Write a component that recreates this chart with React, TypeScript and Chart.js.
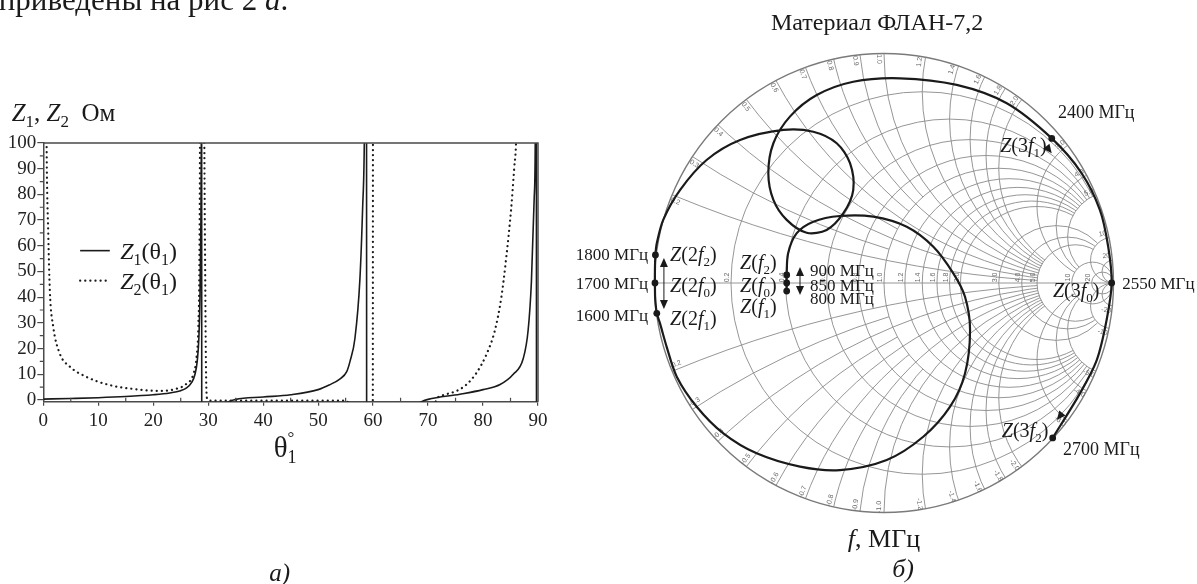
import React, { useEffect, useRef } from 'react';
import { Chart, registerables } from 'chart.js';
Chart.register(...registerables);

const SERIF = '"Liberation Serif", "Times New Roman", serif';
const SANS = '"Liberation Sans", "DejaVu Sans", sans-serif';
const INK = '#1a1a1a';
const AXIS = '#4a4a4a';
const GRID = '#8a8a8a';

// ---------- (а) Z1, Z2 versus θ1 ----------
const THETA_TICKS = [0, 10, 20, 30, 40, 50, 60, 70, 80, 90];
const THETA_MINOR = [5, 15, 25, 35, 45, 55, 65, 75, 85];
const Z_TICKS = [0, 10, 20, 30, 40, 50, 60, 70, 80, 90, 100];
const Z_MINOR = [5, 15, 25, 35, 45, 55, 65, 75, 85, 95];

const Z1_THETA = [0, 5, 10, 15, 20, 23, 25, 26, 27, 27.6, 28, 28.3, 28.5, 28.65, 28.75, 28.8, 28.85, 30, 32, 33.5, 35, 40, 45, 50, 52, 54, 55.2, 55.8, 56.7, 57.6, 58.1, 58.4, 58.6, 58.8, 58.85, 62, 66, 68.8, 70, 75.8, 80, 83.1, 85.5, 87.3, 88.2, 88.8, 89.3, 89.5, 89.6, 89.7, 89.75, 90];
const Z1_VALUES = [0.3, 0.55, 0.85, 1.3, 2.0, 2.7, 3.6, 4.6, 6.8, 10, 15, 24, 40, 65, 100, 160, -160, -20, -5, -1, 0.2, 1.1, 2.0, 4.0, 5.8, 8.2, 11, 15, 24, 47, 75, 100, 160, 160, -160, -20, -4, -0.7, 0.2, 2.2, 4, 6, 10, 16, 27, 46, 78, 100, 160, 160, -160, -100];

const Z2_THETA = [0.45, 0.6, 0.9, 1.2, 1.8, 3, 4.8, 7.8, 12, 17.5, 21, 24, 26, 27.3, 27.9, 28.2, 28.4, 28.5, 28.55, 29.2, 29.3, 29.45, 29.6, 29.8, 30.5, 35, 40, 45, 50, 55, 55.5, 56, 59.9, 60, 60.05, 65, 70, 71.8, 72.7, 75.2, 77, 78.8, 80.6, 82.1, 83.3, 84.2, 85.1, 85.7, 86, 86.1];
const Z2_VALUES = [160, 100, 65, 42, 28.6, 18, 13, 9, 5.8, 4, 3.5, 4.2, 6.2, 10, 17, 28, 54, 100, 160, 160, 100, 50, 12, 0.5, -0.3, -0.3, -0.3, -0.3, -0.3, -0.3, -1.5, -20, -160, 160, 160, null, -8, 0.9, 1.8, 3.5, 6, 10.5, 17.6, 26.6, 39.5, 55, 74, 91, 100, 110];

// ---------- (б) Smith chart ----------
const R_CIRCLES = [0.2, 0.4, 0.6, 0.8, 1.0, 1.2, 1.4, 1.6, 1.8, 2.0, 3.0, 4.0, 5.0, 10, 20];
const X_ARCS = [0.2, 0.3, 0.4, 0.5, 0.6, 0.7, 0.8, 0.9, 1.0, 1.2, 1.4, 1.6, 1.8, 2.0, 3.0, 4.0, 5.0, 10, 20];
const X_FINE = [0.3, 0.5, 0.7, 0.9];

// reflection coefficient of the impedance locus, 800 -> 2700 MHz
const LOCUS_RE = [-0.424, -0.424, -0.424, -0.418, -0.381, -0.308, -0.192, -0.047, 0.099, 0.215, 0.302, 0.353, 0.375, 0.353, 0.288, 0.171, 0.012, -0.192, -0.366, -0.555, -0.700, -0.816, -0.903, -0.947, -0.976, -0.990, -0.997, -0.998, -0.998, -0.996, -0.990, -0.962, -0.889, -0.773, -0.627, -0.439, -0.308, -0.206, -0.148, -0.134, -0.177, -0.250, -0.337, -0.424, -0.482, -0.504, -0.482, -0.410, -0.293, -0.134, 0.070, 0.317, 0.535, 0.731, 0.860, 0.941, 0.977, 0.992, 0.970, 0.927, 0.854, 0.735];
const LOCUS_IM = [-0.035, 0, 0.035, 0.129, 0.216, 0.267, 0.292, 0.289, 0.245, 0.158, 0.042, -0.060, -0.205, -0.394, -0.539, -0.670, -0.771, -0.815, -0.800, -0.742, -0.655, -0.539, -0.408, -0.278, -0.176, -0.132, -0.066, 0, 0.061, 0.122, 0.173, 0.275, 0.405, 0.536, 0.623, 0.667, 0.659, 0.609, 0.522, 0.405, 0.304, 0.231, 0.219, 0.275, 0.362, 0.478, 0.609, 0.725, 0.819, 0.877, 0.892, 0.863, 0.783, 0.630, 0.480, 0.318, 0.158, 0, -0.161, -0.336, -0.481, -0.675];

const MARK_FREQ = [800, 850, 900, 1600, 1700, 1800, 2400, 2550, 2700];
const MARK_RE = [-0.424, -0.424, -0.424, -0.990, -0.998, -0.996, 0.731, 0.992, 0.735];
const MARK_IM = [-0.035, 0, 0.035, -0.132, 0, 0.122, 0.630, 0, -0.675];

type Part = { t: string; i?: boolean; s?: 'sub' | 'sup' };

function partFont(p: Part, size: number) {
  const sz = p.s ? Math.round(size * 0.66) : size;
  return `${p.i ? 'italic ' : ''}${sz}px ${SERIF}`;
}
function drawRich(ctx: CanvasRenderingContext2D, parts: Part[], x: number, yBase: number, size: number, align: 'left' | 'right' | 'center') {
  const widths = parts.map(p => { ctx.font = partFont(p, size); return ctx.measureText(p.t).width; });
  const w = widths.reduce((a, b) => a + b, 0);
  let cx = align === 'left' ? x : align === 'right' ? x - w : x - w / 2;
  ctx.textAlign = 'left';
  ctx.textBaseline = 'alphabetic';
  parts.forEach((p, i) => {
    ctx.font = partFont(p, size);
    const dy = p.s === 'sub' ? size * 0.26 : p.s === 'sup' ? -size * 0.42 : 0;
    ctx.fillText(p.t, cx, yBase + dy);
    cx += widths[i];
  });
}
const zOf = (inner: Part[]): Part[] => [{ t: 'Z', i: true }, { t: '(' }, ...inner, { t: ')' }];
const fSub = (n: string, pre = ''): Part[] => [...(pre ? [{ t: pre }] : []), { t: 'f', i: true }, { t: n, s: 'sub' as const }];

function arrowHead(ctx: CanvasRenderingContext2D, x: number, y: number, dx: number, dy: number, len = 8, half = 3.6) {
  const L = Math.hypot(dx, dy); const ux = dx / L, uy = dy / L;
  const bx = x - ux * len, by = y - uy * len;
  ctx.beginPath();
  ctx.moveTo(x, y);
  ctx.lineTo(bx - uy * half, by + ux * half);
  ctx.lineTo(bx + uy * half, by - ux * half);
  ctx.closePath();
  ctx.fill();
}

const leftDecor = {
  id: 'leftDecor',
  afterDraw(chart: any) {
    const { ctx, chartArea: a, scales } = chart;
    const X = (t: number) => scales.x.getPixelForValue(t);
    const Y = (z: number) => scales.y.getPixelForValue(z);
    ctx.save();
    ctx.strokeStyle = AXIS;
    ctx.lineWidth = 1.5;
    ctx.beginPath();
    ctx.moveTo(a.left, a.top); ctx.lineTo(a.right, a.top); ctx.lineTo(a.right, a.bottom);
    ctx.stroke();
    ctx.lineWidth = 1.2;
    ctx.beginPath();
    Z_MINOR.forEach(z => { const y = Y(z); ctx.moveTo(a.left, y); ctx.lineTo(a.left - 3.5, y); });
    THETA_MINOR.forEach(t => { const x = X(t); ctx.moveTo(x, a.bottom); ctx.lineTo(x, a.bottom - 4); });
    ctx.stroke();

    ctx.fillStyle = INK;
    // legend
    ctx.strokeStyle = INK;
    ctx.lineWidth = 1.6;
    ctx.beginPath(); ctx.moveTo(X(6.7), Y(58.1)); ctx.lineTo(X(12.1), Y(58.1)); ctx.stroke();
    ctx.lineWidth = 2.2; ctx.lineCap = 'round'; ctx.setLineDash([0.1, 5]);
    ctx.beginPath(); ctx.moveTo(X(6.7), Y(46.4)); ctx.lineTo(X(12.1), Y(46.4)); ctx.stroke();
    ctx.setLineDash([]); ctx.lineCap = 'butt';
    drawRich(ctx, [{ t: 'Z', i: true }, { t: '1', s: 'sub' }, { t: '(θ' }, { t: '1', s: 'sub' }, { t: ')' }], X(14), Y(58.1) + 8, 24, 'left');
    drawRich(ctx, [{ t: 'Z', i: true }, { t: '2', s: 'sub' }, { t: '(θ' }, { t: '1', s: 'sub' }, { t: ')' }], X(14), Y(46.4) + 8, 24, 'left');

    // axis titles
    drawRich(ctx, [{ t: 'Z', i: true }, { t: '1', s: 'sub' }, { t: ', ' }, { t: 'Z', i: true }, { t: '2', s: 'sub' }, { t: '  Ом' }], X(-5.75), Y(108.6), 25, 'left');
    ctx.font = `29px ${SERIF}`;
    ctx.textAlign = 'left'; ctx.textBaseline = 'alphabetic';
    const tw = ctx.measureText('θ').width;
    const tx = X(43.9) - (tw + 8) / 2;
    ctx.fillText('θ', tx, Y(-22.2));
    ctx.font = `18px ${SERIF}`;
    ctx.fillText('1', tx + tw, Y(-22.2) + 6);
    ctx.font = `17px ${SERIF}`;
    ctx.fillText('°', tx + tw, Y(-22.2) - 14);
    drawRich(ctx, [{ t: 'а', i: true }, { t: ')', i: true }], X(43), Y(-70.5), 25, 'center');
    // running text above the figure (cut by the frame)
    drawRich(ctx, [{ t: 'приведены на рис 2 ' }, { t: 'а', i: true }, { t: '.' }], X(-8.1), Y(151.8), 31, 'left');
    ctx.restore();
  },
};

function LeftChart() {
  const ref = useRef<HTMLCanvasElement>(null);
  useEffect(() => {
    const chart = new Chart(ref.current as HTMLCanvasElement, {
      type: 'scatter',
      data: {
        datasets: [
          {
            label: 'Z1(θ1)',
            data: Z1_THETA.map((t, i) => ({ x: t, y: Z1_VALUES[i] })),
            showLine: true, borderColor: INK, borderWidth: 1.6, pointRadius: 0, cubicInterpolationMode: 'monotone', spanGaps: false,
          },
          {
            label: 'Z2(θ1)',
            data: Z2_THETA.map((t, i) => ({ x: t, y: Z2_VALUES[i] as any })),
            showLine: true, borderColor: INK, borderWidth: 2.2, borderDash: [0.1, 5], borderCapStyle: 'round',
            pointRadius: 0, cubicInterpolationMode: 'monotone', spanGaps: false,
          },
        ],
      } as any,
      options: {
        responsive: false,
        animation: false,
        events: [],
        layout: { padding: { top: 143, right: 22, bottom: 152.3, left: 0 } },
        plugins: { legend: { display: false }, tooltip: { enabled: false } },
        scales: {
          x: {
            type: 'linear', min: 0, max: 90,
            afterFit: (s: any) => { s.height = 30; },
            afterBuildTicks: (s: any) => { s.ticks = THETA_TICKS.map(v => ({ value: v })); },
            ticks: { font: { family: SERIF, size: 19 }, color: '#222', padding: 4, maxRotation: 0, autoSkip: false },
            grid: { drawOnChartArea: false, tickLength: 4, color: AXIS, lineWidth: 1.2 },
            border: { color: AXIS, width: 1.5 },
          },
          y: {
            type: 'linear', min: -0.7, max: 100,
            afterFit: (s: any) => { s.width = 43.3; },
            afterBuildTicks: (s: any) => { s.ticks = Z_TICKS.map(v => ({ value: v })); },
            ticks: { font: { family: SERIF, size: 19 }, color: '#222', padding: 1, autoSkip: false },
            grid: { drawOnChartArea: false, tickLength: 6, color: AXIS, lineWidth: 1.2 },
            border: { color: AXIS, width: 1.5 },
          },
        },
      } as any,
      plugins: [leftDecor],
    });
    return () => chart.destroy();
  }, []);
  return <canvas ref={ref} width={560} height={584} style={{ position: 'absolute', left: 0, top: 0 }} />;
}

const smithGrid = {
  id: 'smithGrid',
  beforeDatasetsDraw(chart: any) {
    const { ctx, scales, width, height } = chart;
    const P = (u: number, v: number): [number, number] => [scales.x.getPixelForValue(u), scales.y.getPixelForValue(v)];
    const [cx, cy] = P(0, 0);
    const k = P(1, 0)[0] - cx;
    const circ = (u: number, v: number, r: number) => { const [x, y] = P(u, v); ctx.moveTo(x + r * k, y); ctx.arc(x, y, r * k, 0, Math.PI * 2); };
    const exclude = (holes: [number, number, number][]) => {
      ctx.beginPath(); ctx.rect(0, 0, width, height);
      holes.forEach(h => circ(h[0], h[1], h[2]));
      ctx.clip('evenodd');
    };
    ctx.save();
    ctx.beginPath(); ctx.arc(cx, cy, k, 0, Math.PI * 2); ctx.clip();
    ctx.strokeStyle = GRID; ctx.lineWidth = 0.9;
    ctx.beginPath(); ctx.moveTo(cx - k, cy); ctx.lineTo(cx + k, cy); ctx.stroke();
    R_CIRCLES.forEach(r => {
      ctx.save();
      if (r <= 2) exclude([[1, 0.2, 0.2], [1, -0.2, 0.2]]);
      else if (r <= 5) exclude([[1, 0.1, 0.1], [1, -0.1, 0.1]]);
      ctx.beginPath(); circ(r / (1 + r), 0, 1 / (1 + r)); ctx.stroke();
      ctx.restore();
    });
    X_ARCS.forEach(x => {
      [1, -1].forEach(s => {
        ctx.save();
        if (X_FINE.includes(x)) exclude([[0.5, 0, 0.5]]);
        else if (x <= 2) exclude([[5 / 6, 0, 1 / 6]]);
        else if (x <= 5) exclude([[10 / 11, 0, 1 / 11]]);
        ctx.beginPath(); circ(1, s / x, 1 / x); ctx.stroke();
        ctx.restore();
      });
    });
    ctx.restore();
    ctx.save();
    ctx.strokeStyle = '#7a7a7a'; ctx.lineWidth = 1.4;
    ctx.beginPath(); ctx.arc(cx, cy, k, 0, Math.PI * 2); ctx.stroke();
    // rim reactance labels
    ctx.fillStyle = '#6a6a6a';
    ctx.font = `7px ${SANS}`;
    ctx.textAlign = 'center'; ctx.textBaseline = 'middle';
    X_ARCS.forEach(x => {
      [1, -1].forEach(s => {
        const a = s * (Math.PI - 2 * Math.atan(x)) + s * 0.022;
        const [lx, ly] = P(0.976 * Math.cos(a), 0.976 * Math.sin(a));
        let rot = -a;
        while (rot > Math.PI) rot -= 2 * Math.PI;
        while (rot < -Math.PI) rot += 2 * Math.PI;
        if (rot > Math.PI / 2) rot -= Math.PI;
        if (rot < -Math.PI / 2) rot += Math.PI;
        ctx.save(); ctx.translate(lx, ly); ctx.rotate(rot);
        ctx.fillText((s < 0 ? '-' : '') + (x < 10 ? x.toFixed(1) : String(x)), 0, 0);
        ctx.restore();
      });
    });
    // resistance labels on the real axis
    R_CIRCLES.forEach(r => {
      const u = (r - 1) / (r + 1);
      const [lx, ly] = P(u - 0.017, 0.024);
      ctx.save(); ctx.translate(lx, ly); ctx.rotate(-Math.PI / 2);
      ctx.fillText(r < 10 ? r.toFixed(1) : String(r), 0, 0);
      ctx.restore();
    });
    ctx.restore();
  },
};

type Label = { parts: Part[]; u: number; v: number; size: number; align: 'left' | 'right' | 'center' };
const mhz = (f: number): Part[] => [{ t: `${f} МГц` }];
const SMITH_TEXT: Label[] = [
  { parts: [{ t: 'Материал ФЛАН-7,2' }], u: -0.03, v: 1.137, size: 24, align: 'center' },
  { parts: [{ t: 'f', i: true }, { t: ', МГц' }], u: 0, v: -1.111, size: 26, align: 'center' },
  { parts: [{ t: 'б', i: true }, { t: ')', i: true }], u: 0.083, v: -1.242, size: 26, align: 'center' },
  { parts: mhz(2400), u: 0.758, v: 0.745, size: 18, align: 'left' },
  { parts: zOf(fSub('1', '3')), u: 0.709, v: 0.601, size: 20, align: 'right' },
  { parts: mhz(2550), u: 1.038, v: 0, size: 17, align: 'left' },
  { parts: zOf(fSub('0', '3')), u: 0.736, v: -0.03, size: 20, align: 'left' },
  { parts: zOf(fSub('2', '3')), u: 0.716, v: -0.641, size: 20, align: 'right' },
  { parts: mhz(2700), u: 0.780, v: -0.723, size: 18, align: 'left' },
  { parts: mhz(1800), u: -1.028, v: 0.126, size: 17, align: 'right' },
  { parts: mhz(1700), u: -1.028, v: 0, size: 17, align: 'right' },
  { parts: mhz(1600), u: -1.028, v: -0.139, size: 17, align: 'right' },
  { parts: zOf(fSub('2', '2')), u: -0.932, v: 0.126, size: 20, align: 'left' },
  { parts: zOf(fSub('0', '2')), u: -0.932, v: -0.009, size: 20, align: 'left' },
  { parts: zOf(fSub('1', '2')), u: -0.932, v: -0.153, size: 20, align: 'left' },
  { parts: zOf(fSub('2')), u: -0.627, v: 0.091, size: 20, align: 'left' },
  { parts: zOf(fSub('0')), u: -0.627, v: -0.009, size: 20, align: 'left' },
  { parts: zOf(fSub('1')), u: -0.627, v: -0.1, size: 20, align: 'left' },
  { parts: mhz(900), u: -0.322, v: 0.057, size: 17, align: 'left' },
  { parts: mhz(850), u: -0.322, v: -0.009, size: 17, align: 'left' },
  { parts: mhz(800), u: -0.322, v: -0.065, size: 17, align: 'left' },
];

const smithText = {
  id: 'smithText',
  afterDatasetsDraw(chart: any) {
    const { ctx, scales } = chart;
    const P = (u: number, v: number): [number, number] => [scales.x.getPixelForValue(u), scales.y.getPixelForValue(v)];
    ctx.save();
    ctx.fillStyle = INK; ctx.strokeStyle = INK;
    SMITH_TEXT.forEach(l => {
      const [x, y] = P(l.u, l.v);
      drawRich(ctx, l.parts, x, y + 0.34 * l.size, l.size, l.align);
    });
    // double arrows
    const dbl = (u: number, v1: number, v2: number) => {
      const [x, y1] = P(u, v1); const [, y2] = P(u, v2);
      ctx.lineWidth = 1; ctx.beginPath(); ctx.moveTo(x, y1 + 6); ctx.lineTo(x, y2 - 6); ctx.stroke();
      arrowHead(ctx, x, y1, 0, -1, 9, 4); arrowHead(ctx, x, y2, 0, 1, 9, 4);
    };
    dbl(-0.366, 0.07, -0.052);
    dbl(-0.959, 0.109, -0.113);
    const [ax1, ay1] = P(0.731, 0.565); arrowHead(ctx, ax1, ay1, 0.61, 0.79, 9, 4);
    const [ax2, ay2] = P(0.753, -0.597); arrowHead(ctx, ax2, ay2, -0.62, 0.78, 9, 4);
    ctx.restore();
  },
};

function SmithChart() {
  const ref = useRef<HTMLCanvasElement>(null);
  useEffect(() => {
    const chart = new Chart(ref.current as HTMLCanvasElement, {
      type: 'scatter',
      data: {
        datasets: [
          {
            label: 'Z(f)',
            data: LOCUS_RE.map((u, i) => ({ x: u, y: LOCUS_IM[i] })),
            showLine: true, borderColor: INK, borderWidth: 2.2, pointRadius: 0, tension: 0.3,
          },
          {
            label: 'markers',
            data: MARK_RE.map((u, i) => ({ x: u, y: MARK_IM[i], f: MARK_FREQ[i] })),
            showLine: false, pointRadius: 3.4, pointBackgroundColor: INK, pointBorderColor: INK, pointBorderWidth: 0,
          },
        ],
      } as any,
      options: {
        responsive: false,
        animation: false,
        events: [],
        layout: { padding: { left: 71.55, right: 60.55, top: 30.55, bottom: 48.55 } },
        plugins: { legend: { display: false }, tooltip: { enabled: false } },
        scales: {
          x: { type: 'linear', min: -1.1, max: 1.1, display: false },
          y: { type: 'linear', min: -1.1, max: 1.1, display: false },
        },
      } as any,
      plugins: [smithGrid, smithText],
    });
    return () => chart.destroy();
  }, []);
  return <canvas ref={ref} width={637} height={584} style={{ position: 'absolute', left: 560, top: 0 }} />;
}

export default function App() {
  return (
    <div style={{ position: 'absolute', left: 0, top: 0, width: 1197, height: 584, background: '#fff', overflow: 'hidden' }}>
      <LeftChart />
      <SmithChart />
    </div>
  );
}
